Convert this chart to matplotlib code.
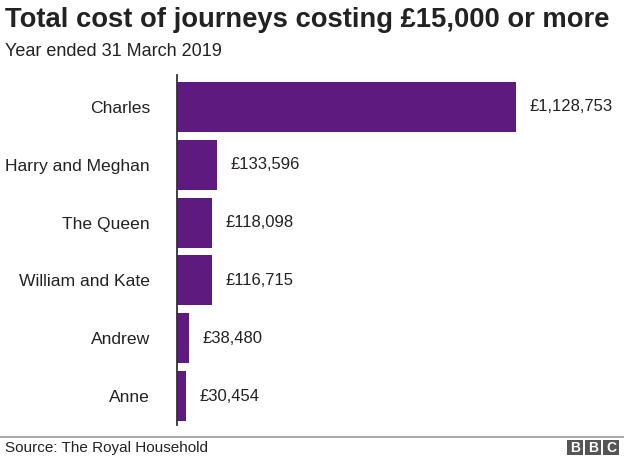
import matplotlib.pyplot as plt
from matplotlib.patches import Rectangle

names = ["Charles", "Harry and Meghan", "The Queen", "William and Kate", "Andrew", "Anne"]
costs = [1128753, 133596, 118098, 116715, 38480, 30454]

title = "Total cost of journeys costing £15,000 or more"
subtitle = "Year ended 31 March 2019"
source = "Source: The Royal Household"

purple = "#5f1a80"
W, H = 624, 457

plt.rcParams['font.family'] = ['Liberation Sans', 'DejaVu Sans']

fig = plt.figure(figsize=(W / 100, H / 100), dpi=100)

# axes placed in pixel terms
left, right, top, bottom = 177, 177 + 392, 75, 425
ax = fig.add_axes([left / W, (H - bottom) / H, (right - left) / W, (bottom - top) / H])
ax.set_xlim(0, 1128753 * 392 / 339)
ax.set_ylim(5.5, -0.55)

ypos = list(range(len(names)))
ax.barh(ypos, costs, height=0.865, color=purple)
for y, v in zip(ypos, costs):
    ax.text(v + 45000, y, f"£{v:,}", va="center", ha="left", fontsize=12, color="#222222")

ax.set_yticks(ypos)
ax.set_yticklabels(names, fontsize=12.6, color="#222222")
ax.tick_params(axis="y", length=0, pad=19.5)
ax.set_xticks([])
for s in ["top", "right", "bottom"]:
    ax.spines[s].set_visible(False)
ax.spines["left"].set_color("#333333")
ax.spines["left"].set_linewidth(1.3)

fig.text(5 / W, 1 - 20 / H, title, fontsize=19.7, fontweight="bold", color="#222222", va="center", ha="left")
fig.text(5 / W, 1 - 52 / H, subtitle, fontsize=13, color="#222222", va="center", ha="left")

# footer
fig.add_artist(plt.Line2D([0, 1], [1 - 437 / H, 1 - 437 / H], color="#999999", lw=1.2))
fig.text(5 / W, 1 - 448 / H, source, fontsize=11, color="#222222", va="center", ha="left")

for i, ch in enumerate("BBC"):
    x0 = 567 + i * 18
    fig.add_artist(Rectangle((x0 / W, 1 - 455 / H), 16 / W, 15 / H, transform=fig.transFigure,
                             facecolor="#555555", edgecolor="none"))
    fig.text((x0 + 8) / W, 1 - 447.5 / H, ch, fontsize=10, fontweight="bold", color="white",
             ha="center", va="center")

fig.savefig("out.png", dpi=100)
